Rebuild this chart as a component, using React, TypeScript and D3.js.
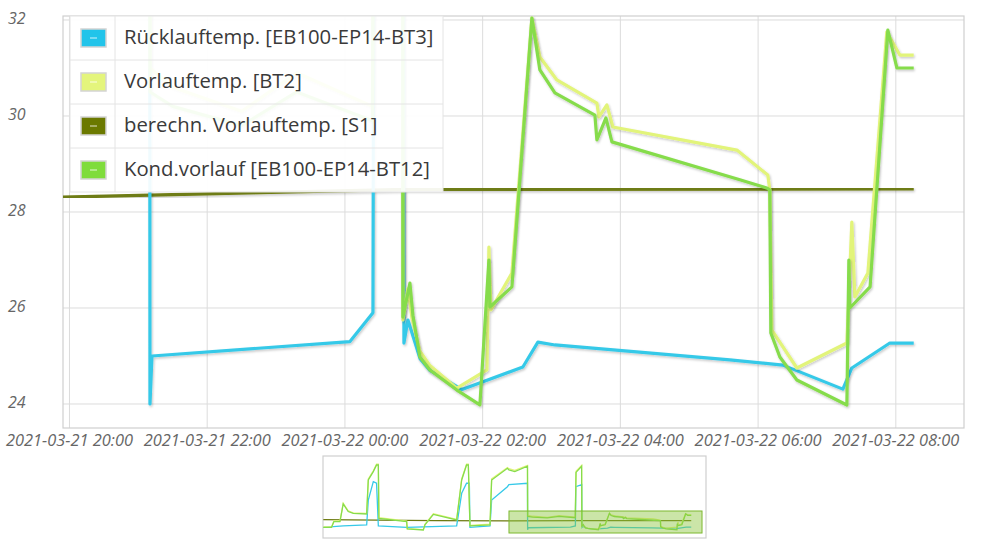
import * as d3 from 'd3';

// Startzeit: 2021-03-21 20:00, Werte als [Stunden ab Start, °C]
const START = new Date(2021, 2, 21, 20, 0, 0);

const SERIES_NAMES = [
  'Rücklauftemp. [EB100-EP14-BT3]',
  'Vorlauftemp. [BT2]',
  'berechn. Vorlauftemp. [S1]',
  'Kond.vorlauf [EB100-EP14-BT12]'
];
const SERIES_COLORS = ['#36c9e8', '#e2f47a', '#6e7b12', '#86dc4c'];
const LEGEND_COLORS = ['#22c4ea', '#e4f57c', '#6b7900', '#7fdc3c'];

const RUECKLAUF: [number, number][] = [
  [-0.1, 46.0], [1.16, 46.7], [1.169, 24.0], [1.198, 25.0], [4.073, 25.3], [4.407, 25.9],
  [4.436, 45.0], [4.84, 46.0], [4.857, 25.27], [4.915, 25.75], [5.089, 24.95], [5.234, 24.7],
  [5.7, 24.3], [6.584, 24.77], [6.802, 25.29], [7.05, 25.23], [9.59, 24.92], [10.36, 24.81],
  [11.231, 24.31], [11.361, 24.75], [11.913, 25.27], [12.26, 25.27]
];
const VORLAUF: [number, number][] = [
  [-0.1, 53.8], [0.3, 53.0], [1.16, 55.4], [1.17, 31.0], [1.5, 30.6], [2.5, 30.1], [3.3, 30.9],
  [4.4, 30.2], [4.45, 52.5], [4.83, 55.4], [4.842, 25.75], [4.915, 26.4], [4.973, 25.8],
  [5.089, 25.1], [5.234, 24.8], [5.626, 24.33], [6.062, 24.71], [6.091, 27.27], [6.12, 25.96],
  [6.425, 26.73], [6.715, 32.04], [6.831, 31.23], [7.078, 30.75], [7.659, 30.27], [7.688, 29.98],
  [7.804, 30.23], [7.891, 29.77], [9.692, 29.29], [10.141, 28.77], [10.17, 28.46], [10.2, 25.54],
  [10.563, 24.75], [11.289, 25.27], [11.361, 27.79], [11.405, 26.23], [11.594, 26.73],
  [11.869, 31.75], [12.058, 31.27], [12.26, 31.27]
];
const BERECHN: [number, number][] = [
  [-0.1, 28.31], [4.9, 28.47], [12.26, 28.48]
];
const KONDVORLAUF: [number, number][] = [
  [-0.1, 53.2], [0.3, 52.4], [1.16, 55.0], [1.17, 30.5], [1.5, 30.2], [2.5, 29.8], [3.3, 30.5],
  [4.4, 29.9], [4.45, 52.0], [4.83, 55.0], [4.842, 25.81], [4.944, 26.52], [4.987, 25.85],
  [5.089, 24.98], [5.234, 24.71], [5.626, 24.29], [5.96, 23.98], [6.091, 27.0], [6.105, 26.02],
  [6.425, 26.44], [6.715, 32.04], [6.831, 30.96], [7.049, 30.48], [7.63, 30.02], [7.659, 29.5],
  [7.79, 29.96], [7.877, 29.46], [9.735, 28.67], [10.127, 28.5], [10.17, 28.46], [10.185, 25.48],
  [10.316, 24.98], [10.563, 24.5], [11.289, 23.98], [11.318, 27.0], [11.332, 26.0],
  [11.626, 26.44], [11.884, 31.79], [12.015, 31.0], [12.26, 31.0]
];

// Navigator: Verlauf vor dem sichtbaren Ausschnitt
const NAV_RUECKLAUF: [number, number][] = [
  [-12.68, 25.2], [-11.33, 25.9], [-9.74, 26.35], [-9.63, 38.5], [-9.29, 47.5], [-9.07, 46.7],
  [-8.95, 25.9], [-7.03, 25.2], [-3.64, 25.9], [-3.3, 41.8], [-2.97, 46.7], [-2.78, 46.7],
  [-2.74, 25.2], [-1.38, 25.9], [-1.27, 38.5], [-0.2, 45.0]
];
const NAV_VORLAUF: [number, number][] = [
  [-12.68, 25.4], [-12.12, 25.4], [-11.96, 28.3], [-11.55, 28.3], [-11.33, 37.0], [-10.99, 33.2],
  [-10.65, 32.3], [-9.74, 32.0], [-9.63, 48.8], [-9.29, 52.8], [-9.07, 56.0], [-8.95, 56.0],
  [-8.91, 29.9], [-7.03, 28.3], [-6.99, 24.6], [-5.9, 24.1], [-5.79, 26.7], [-5.22, 31.8],
  [-3.64, 29.1], [-3.3, 48.8], [-2.97, 56.0], [-2.85, 56.0], [-2.74, 26.1], [-1.38, 26.7],
  [-1.27, 48.8], [-0.2, 54.4]
];
const NAV_BERECHN: [number, number][] = [
  [-12.68, 29.0], [-9.0, 28.7], [-5.0, 28.5], [-0.2, 28.32]
];
const NAV_KONDVORLAUF: [number, number][] = [
  [-12.68, 25.2], [-12.12, 25.2], [-11.96, 28.0], [-11.55, 28.0], [-11.33, 36.6], [-10.99, 32.9],
  [-10.65, 32.0], [-9.74, 31.7], [-9.63, 48.3], [-9.29, 52.4], [-9.07, 55.6], [-8.95, 55.6],
  [-8.91, 29.6], [-7.03, 28.0], [-6.99, 24.4], [-5.9, 23.9], [-5.79, 26.4], [-5.22, 31.5],
  [-3.64, 28.8], [-3.3, 48.3], [-2.97, 55.6], [-2.85, 55.6], [-2.74, 25.9], [-1.38, 26.4],
  [-1.27, 48.3], [-0.2, 54.0]
];

const Y_TICKS = [24, 26, 28, 30, 32];
const X_TICK_HOURS = [0, 2, 4, 6, 8, 10, 12];

const toDate = (h: number) => new Date(START.getTime() + h * 3600e3);

const W = 987;
const H = 557;
const PLOT = { left: 63, right: 964, top: 16, bottom: 428 };
const NAV = { left: 323, right: 706, top: 456, bottom: 538 };

export default function App() {
  const x = d3.scaleTime()
    .domain([toDate(-0.094), toDate(12.99)])
    .range([PLOT.left, PLOT.right]);
  const y = d3.scaleLinear().domain([23.5, 32.083]).range([PLOT.bottom, PLOT.top]);

  const nx = d3.scaleTime()
    .domain([toDate(-12.7), toDate(13.26)])
    .range([NAV.left, NAV.right]);
  const ny = d3.scaleLinear().domain([20, 60]).range([NAV.bottom, NAV.top]);

  const line = d3.line<[number, number]>()
    .x((d) => x(toDate(d[0])))
    .y((d) => y(d[1]));
  const navLine = d3.line<[number, number]>()
    .x((d) => nx(toDate(d[0])))
    .y((d) => ny(d[1]));

  const main = [RUECKLAUF, VORLAUF, BERECHN, KONDVORLAUF];
  const navPre = [NAV_RUECKLAUF, NAV_VORLAUF, NAV_BERECHN, NAV_KONDVORLAUF];
  // Zeichenreihenfolge wie im Original: Vorlauf unter Kond.vorlauf
  const order = [2, 0, 1, 3];

  const fmt = d3.timeFormat('%Y-%m-%d %H:%M');
  const font = '"Open Sans", "DejaVu Sans", sans-serif';

  const legendTop = 16;
  const rowH = 44;

  return (
    <svg width={W} height={H} style={{ position: 'absolute', left: 0, top: 0, background: '#fff' }}>
      <defs>
        <clipPath id="plot-clip">
          <rect x={PLOT.left} y={PLOT.top} width={PLOT.right - PLOT.left} height={PLOT.bottom - PLOT.top} />
        </clipPath>
        <clipPath id="nav-clip">
          <rect x={NAV.left} y={NAV.top} width={NAV.right - NAV.left} height={NAV.bottom - NAV.top} />
        </clipPath>
        <filter id="shadow" x="-5%" y="-5%" width="110%" height="110%">
          <feDropShadow dx="1" dy="1.5" stdDeviation="1.2" floodColor="#000" floodOpacity="0.22" />
        </filter>
      </defs>

      {/* Gitter */}
      {Y_TICKS.map((t) => (
        <line key={'gy' + t} x1={PLOT.left} x2={PLOT.right} y1={y(t)} y2={y(t)} stroke="#dcdcdc" strokeWidth={1} />
      ))}
      {X_TICK_HOURS.map((h) => (
        <line key={'gx' + h} x1={x(toDate(h))} x2={x(toDate(h))} y1={PLOT.top} y2={PLOT.bottom} stroke="#dcdcdc" strokeWidth={1} />
      ))}
      <rect x={PLOT.left} y={PLOT.top} width={PLOT.right - PLOT.left} height={PLOT.bottom - PLOT.top}
        fill="none" stroke="#cfcfcf" strokeWidth={1.2} />

      {/* Achsenbeschriftung */}
      {Y_TICKS.map((t) => (
        <text key={'ty' + t} x={8} y={y(t)} dominantBaseline="middle" fontFamily={font}
          fontStyle="italic" fontSize={16} fill="#666">{t}</text>
      ))}
      {X_TICK_HOURS.map((h) => (
        <text key={'tx' + h} x={x(toDate(h))} y={442} dominantBaseline="middle" textAnchor="middle"
          fontFamily={font} fontStyle="italic" fontSize={16.4} fill="#666">{fmt(toDate(h))}</text>
      ))}

      {/* Linien */}
      <g clipPath="url(#plot-clip)">
        {order.map((i) => (
          <path key={'l' + i} d={line(main[i]) ?? ''} fill="none" stroke={SERIES_COLORS[i]}
            strokeWidth={3.2} strokeLinejoin="round" filter="url(#shadow)" />
        ))}
      </g>

      {/* Legende */}
      <g>
        <rect x={70} y={legendTop} width={373} height={rowH * 4} fill="#fff" fillOpacity={0.93} stroke="#e4e4e4" />
        {SERIES_NAMES.map((name, i) => {
          const top = legendTop + i * rowH;
          const cy = top + rowH / 2;
          return (
            <g key={'lg' + i}>
              {i > 0 && <line x1={70} x2={443} y1={top} y2={top} stroke="#e4e4e4" />}
              <rect x={81} y={cy - 9} width={25} height={18} fill={LEGEND_COLORS[i]} stroke="#d4d4d4" strokeWidth={1.5} />
              <line x1={90} x2={97} y1={cy} y2={cy} stroke="#fff" strokeOpacity={0.8} strokeWidth={1} />
              <text x={124} y={cy + 1} dominantBaseline="middle" fontFamily={font} fontSize={20.3} fill="#3a3a3a">{name}</text>
            </g>
          );
        })}
        <line x1={115} x2={115} y1={legendTop} y2={legendTop + rowH * 4} stroke="#e4e4e4" />
      </g>

      {/* Navigator */}
      <rect x={NAV.left} y={NAV.top} width={NAV.right - NAV.left} height={NAV.bottom - NAV.top}
        fill="#fff" stroke="#cfcfcf" strokeWidth={1.2} />
      <g clipPath="url(#nav-clip)">
        {order.map((i) => (
          <path key={'n' + i} d={navLine([...navPre[i], ...main[i]]) ?? ''} fill="none"
            stroke={SERIES_COLORS[i]} strokeWidth={1.3} />
        ))}
      </g>
      <rect x={nx(toDate(-0.094))} y={511} width={nx(toDate(12.99)) - nx(toDate(-0.094))} height={22}
        fill="#8cc63f" fillOpacity={0.45} stroke="#7cb82f" strokeWidth={1} />
    </svg>
  );
}
